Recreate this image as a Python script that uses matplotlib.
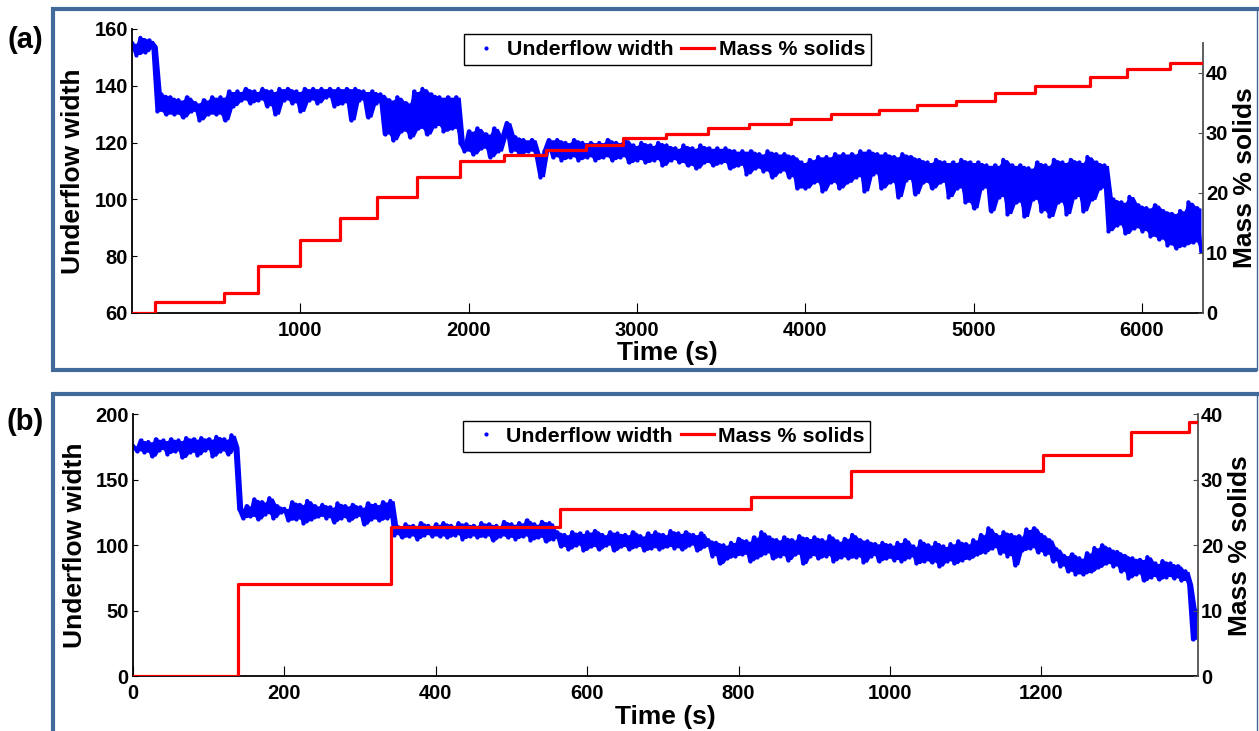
import numpy as np
import matplotlib
matplotlib.use("Agg")
import matplotlib.pyplot as plt
from matplotlib.lines import Line2D

plt.rcParams['font.family'] = ['Liberation Sans', 'DejaVu Sans']
plt.rcParams['font.weight'] = 'bold'

W, H = 1259, 731

# ---- (a) long run -------------------------------------------------------
width_a_dt = 25  # s between samples
width_a = [
    155, 151, 157, 152, 156, 154, 131, 137, 130, 136,
    130, 135, 129, 136, 131, 134, 128, 135, 130, 136,
    130, 136, 128, 138, 133, 138, 135, 139, 134, 138,
    135, 139, 133, 138, 130, 139, 135, 139, 134, 138,
    131, 139, 135, 139, 134, 139, 136, 139, 133, 139,
    134, 139, 128, 139, 135, 138, 129, 138, 134, 137,
    123, 135, 121, 136, 124, 134, 122, 138, 125, 139,
    123, 137, 126, 136, 124, 136, 125, 136, 120, 117,
    124, 116, 125, 118, 123, 115, 125, 117, 122, 127,
    117, 122, 116, 121, 117, 121, 116, 108, 117, 121,
    115, 121, 114, 120, 115, 121, 114, 120, 115, 120,
    114, 120, 115, 121, 114, 120, 115, 121, 113, 119,
    114, 120, 113, 119, 114, 120, 112, 119, 114, 118,
    113, 119, 112, 118, 111, 119, 113, 118, 112, 118,
    113, 118, 111, 117, 112, 117, 109, 117, 111, 116,
    110, 117, 108, 116, 110, 116, 108, 115, 104, 113,
    104, 114, 106, 115, 103, 115, 106, 116, 104, 116,
    106, 116, 108, 117, 103, 117, 109, 116, 104, 116,
    106, 115, 101, 116, 107, 115, 102, 114, 106, 113,
    104, 114, 106, 113, 101, 113, 104, 114, 99, 113,
    97, 113, 104, 112, 96, 112, 101, 114, 95, 112,
    99, 112, 94, 111, 100, 113, 96, 112, 94, 114,
    99, 113, 95, 114, 101, 113, 96, 115, 100, 113,
    104, 112, 89, 100, 91, 99, 88, 101, 90, 98,
    89, 97, 87, 98, 86, 96, 84, 95, 83, 96,
    84, 99, 85, 97, 82,
]
solids_a_t = [0, 139, 545, 747, 996, 1233, 1455, 1693, 1950, 2207, 2459, 2696,
              2916, 3173, 3419, 3668, 3914, 4153, 4440, 4662, 4895, 5127, 5365,
              5691, 5909, 6166]
solids_a = [0, 1.8, 3.3, 7.9, 12.1, 15.8, 19.4, 22.6, 25.3, 26.3, 27.2, 28.0,
            29.1, 29.8, 30.8, 31.5, 32.4, 33.1, 33.9, 34.6, 35.3, 36.7, 37.9,
            39.3, 40.6, 41.7]
time_a_end = 6362
xticks_a = [1000, 2000, 3000, 4000, 5000, 6000]
yticks_a_left = [60, 80, 100, 120, 140, 160]
yticks_a_right = [0, 10, 20, 30, 40]

# ---- (b) short run ------------------------------------------------------
width_b_dt = 5  # s between samples
width_b = [
    176, 172, 180, 171, 179, 168, 181, 173, 180, 170,
    181, 172, 180, 167, 182, 171, 181, 169, 182, 173,
    181, 168, 183, 172, 181, 170, 184, 175, 128, 121,
    130, 122, 135, 120, 133, 124, 136, 121, 130, 125,
    128, 119, 133, 120, 131, 117, 134, 120, 130, 122,
    131, 121, 129, 118, 132, 121, 130, 119, 131, 122,
    129, 116, 132, 120, 131, 119, 133, 121, 134, 108,
    114, 106, 116, 107, 115, 105, 117, 108, 115, 107,
    116, 107, 117, 106, 115, 108, 117, 105, 116, 107,
    115, 106, 117, 107, 116, 104, 115, 107, 118, 106,
    116, 105, 117, 107, 119, 104, 116, 106, 118, 103,
    117, 105, 110, 99, 108, 97, 110, 100, 109, 96,
    110, 99, 111, 97, 108, 100, 110, 96, 109, 99,
    108, 97, 110, 99, 107, 96, 109, 98, 110, 97,
    108, 99, 111, 98, 109, 97, 110, 100, 108, 96,
    109, 99, 104, 92, 102, 86, 100, 90, 102, 92,
    105, 93, 103, 88, 106, 91, 110, 94, 106, 90,
    104, 92, 106, 89, 104, 93, 107, 86, 105, 92,
    106, 90, 104, 92, 107, 88, 103, 91, 105, 90,
    108, 91, 104, 87, 103, 92, 101, 88, 102, 90,
    100, 89, 102, 88, 104, 91, 99, 86, 103, 88,
    100, 87, 102, 84, 99, 88, 101, 86, 103, 89,
    101, 90, 104, 93, 108, 95, 113, 98, 108, 94,
    110, 92, 108, 85, 107, 96, 112, 98, 113, 95,
    108, 93, 104, 88, 97, 84, 92, 80, 93, 78,
    90, 78, 94, 80, 98, 83, 100, 86, 97, 84,
    95, 80, 92, 75, 90, 78, 89, 73, 91, 76,
    86, 74, 88, 76, 86, 75, 84, 73, 80, 70,
    28, 50,
]
solids_b_t = [0, 138.8, 341.3, 564, 816, 949, 1202, 1318.5, 1395]
solids_b = [0, 14.1, 22.7, 25.6, 27.4, 31.3, 33.8, 37.3, 38.8]
time_b_end = 1407
xticks_b = [0, 200, 400, 600, 800, 1000, 1200]
yticks_b_left = [0, 50, 100, 150, 200]
yticks_b_right = [0, 10, 20, 30, 40]

panel_labels = ['(a)', '(b)']
legend_labels = ['Underflow width', 'Mass % solids']
xlabel = 'Time (s)'
ylabel_left = 'Underflow width'
ylabel_right = 'Mass % solids'

FRAME = '#41699a'
TICK_FS = 14.5
LABEL_FS = 19
LEG_FS = 15.4


def fbox(x0, y0, x1, y1):
    """pixel box (top-left origin) -> figure fraction rect"""
    return [x0 / W, 1 - y1 / H, (x1 - x0) / W, (y1 - y0) / H]


def fx(x):
    return x / W


def fy(y):
    return 1 - y / H


fig = plt.figure(figsize=(W / 100, H / 100), dpi=100)


# panel frames
def frame(top, bottom=None):
    kw = dict(color=FRAME, lw=3.0, solid_capstyle='butt', transform=fig.transFigure)
    yb = bottom if bottom is not None else H + 5
    fig.add_artist(Line2D([fx(51), fx(1259)], [fy(top), fy(top)], **kw))
    fig.add_artist(Line2D([fx(53), fx(53)], [fy(top - 2), fy(yb)], **kw))
    if bottom is not None:
        fig.add_artist(Line2D([fx(51), fx(1257)], [fy(bottom), fy(bottom)], **kw))
    fig.add_artist(Line2D([fx(1257), fx(1257)], [fy(top), fy(yb)],
                          color=FRAME, lw=1.0, transform=fig.transFigure))


frame(8.7, 370)
frame(393.7)


def panel(lbox, rbox, t_w, w, st, sv, t_end, xlim, yl, yr, xt, ylt, yrt,
          leg_cx, leg_top, lab, lab_y, ylab_l, ylab_r, xlab, band_lw):
    ax = fig.add_axes(lbox)
    ax2 = fig.add_axes(rbox)
    ax2.patch.set_visible(False)

    # fast oscillation: shade the range spanned by neighbouring samples,
    # then draw the samples themselves on top
    w = np.asarray(w, dtype=float)
    prev = np.concatenate([w[:1], w[:-1]])
    ax.fill_between(t_w, np.minimum(prev, w), np.maximum(prev, w),
                    color='blue', lw=0)
    ax.plot(t_w, w, color='blue', lw=band_lw, marker='.', ms=6, mew=0,
            solid_joinstyle='round')
    ax2.step(list(st) + [t_end], list(sv) + [sv[-1]], where='post',
             color='red', lw=2.3, zorder=3)

    for a in (ax, ax2):
        a.set_xlim(*xlim)
        for s in a.spines.values():
            s.set_visible(False)
    ax.set_ylim(*yl)
    ax2.set_ylim(*yr)

    ax.spines['left'].set_visible(True)
    ax.spines['bottom'].set_visible(True)
    ax.spines['left'].set_linewidth(1.3)
    ax.spines['bottom'].set_linewidth(1.3)
    ax2.spines['right'].set_visible(True)
    ax2.spines['right'].set_linewidth(1.3)
    ax2.spines['right'].set_color('#505050')

    ax.set_xticks(xt)
    ax.set_yticks(ylt)
    ax2.set_yticks(yrt)
    ax2.set_xticks([])
    ax.tick_params(axis='x', direction='in', length=7.5, width=0.8,
                   labelsize=TICK_FS, pad=6, top=False)
    ax.tick_params(axis='y', direction='in', length=3.3, width=0.8,
                   labelsize=TICK_FS, pad=3, right=False)
    ax2.tick_params(axis='y', direction='in', length=3.6, width=0.8,
                    labelsize=TICK_FS, pad=2, left=False, right=True,
                    labelleft=False, labelright=True, color='#505050')
    for t in ax.get_xticklabels() + ax.get_yticklabels() + ax2.get_yticklabels():
        t.set_fontweight('bold')

    h1 = Line2D([], [], color='blue', marker='.', ls='none', ms=6, mew=0)
    h2 = Line2D([], [], color='red', lw=2.3)
    leg = ax2.legend([h1, h2], legend_labels, loc='upper center',
                     bbox_to_anchor=(fx(leg_cx), fy(leg_top)),
                     bbox_transform=fig.transFigure, ncol=2,
                     prop={'size': LEG_FS, 'weight': 'bold'},
                     frameon=True, fancybox=False, framealpha=1,
                     edgecolor='black', borderpad=0.28, handlelength=1.55,
                     handletextpad=0.2, columnspacing=0.35, borderaxespad=0)
    leg.get_frame().set_linewidth(1.0)

    fig.text(fx(25), fy(lab_y), lab, fontsize=21, fontweight='bold',
             ha='center', va='center')
    fig.text(fx(ylab_l[0]), fy(ylab_l[1]), ylabel_left, rotation=90,
             fontsize=LABEL_FS, fontweight='bold', ha='center', va='center')
    fig.text(fx(ylab_r[0]), fy(ylab_r[1]), ylabel_right, rotation=90,
             fontsize=LABEL_FS, fontweight='bold', ha='center', va='center')
    fig.text(fx(xlab[0]), fy(xlab[1]), xlabel, fontsize=LABEL_FS,
             fontweight='bold', ha='center', va='center')
    return ax, ax2


t_a = np.arange(len(width_a)) * width_a_dt
t_b = np.arange(len(width_b)) * width_b_dt

panel(fbox(132, 29, 1203, 313), fbox(132, 43, 1203, 313),
      t_a, width_a, solids_a_t, solids_a, time_a_end, (0, time_a_end),
      (60, 160), (0, 45), xticks_a, yticks_a_left, yticks_a_right,
      667.5, 34.3, panel_labels[0], 40, (73, 171), (1245, 178), (667, 353),
      2.6)

panel(fbox(133, 414.3, 1198, 676), fbox(133, 414.3, 1198, 676),
      t_b, width_b, solids_b_t, solids_b, time_b_end, (0, time_b_end),
      (0, 200), (0, 40), xticks_b, yticks_b_left, yticks_b_right,
      666.7, 420.7, panel_labels[1], 422, (75, 545), (1240, 546), (665, 717),
      2.6)

fig.savefig('out.png', dpi=100)
